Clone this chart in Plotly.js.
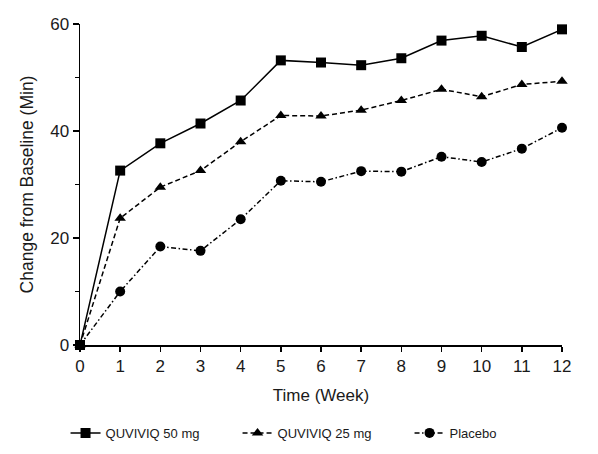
<!DOCTYPE html>
<html><head><meta charset="utf-8">
<script src="https://cdn.plot.ly/plotly-3.0.1.min.js"></script>
<style>body{margin:0;background:#fff}#c{width:598px;height:454px}</style>
</head><body><div id="c"></div>
<script>
const weeks = [0,1,2,3,4,5,6,7,8,9,10,11,12];
const seriesNames = ["QUVIVIQ 50 mg","QUVIVIQ 25 mg","Placebo"];
const dose50 = [0,32.6,37.7,41.4,45.7,53.2,52.8,52.3,53.6,56.9,57.8,55.7,59.0];
const dose25 = [0,23.7,29.5,32.6,38.0,42.9,42.8,43.9,45.7,47.8,46.4,48.7,49.3];
const placebo = [0,10.0,18.4,17.6,23.5,30.7,30.5,32.5,32.4,35.2,34.2,36.7,40.6];
const xTicks = [0,1,2,3,4,5,6,7,8,9,10,11,12];
const yTicks = [0,20,40,60];

const font = "Liberation Sans, Arial, sans-serif";
function tr(y, name, dash, sym, size){
  return {x: weeks, y: y, name: name, mode: 'lines+markers', cliponaxis:false,
    line:{color:'#000', width:1.5, dash:dash},
    marker:{symbol:sym, size:size, color:'#000'}};
}
const data = [
  tr(dose50, seriesNames[0], 'solid', 'square', 10),
  tr(dose25, seriesNames[1], '5px,3px', 'triangle-up', 10),
  tr(placebo, seriesNames[2], '5px,2.5px,1.5px,2.5px', 'circle', 10)
];
const layout = {
  width:598, height:454,
  margin:{l:80, r:36, t:24, b:109, autoexpand:false},
  paper_bgcolor:'#fff', plot_bgcolor:'#fff',
  font:{family:font, color:'#1a1a1a'},
  showlegend:true,
  legend:{orientation:'h', x:-0.03, xanchor:'left', y:-0.274, yanchor:'middle',
    font:{size:13, family:font}, entrywidth:127, traceorder:'normal'},
  xaxis:{range:[0,12], tickvals:xTicks, ticktext:xTicks.map(String),
    showgrid:false, zeroline:false, showline:true, linecolor:'#000', linewidth:1.5,
    ticks:'outside', ticklen:5, tickwidth:1.5, tickcolor:'#000',
    tickfont:{size:17}, title:{text:'Time (Week)', font:{size:17}, standoff:14}},
  yaxis:{range:[0,60], tickvals:yTicks, ticktext:yTicks.map(String),
    showgrid:false, zeroline:false, showline:true, linecolor:'#000', linewidth:1.5,
    ticks:'outside', ticklen:6, tickwidth:1.5, tickcolor:'#000',
    minor:{tickvals:[10,30,50], ticks:'outside', ticklen:4, tickwidth:1.5, tickcolor:'#000', showgrid:false},
    tickfont:{size:17}, title:{text:'Change from Baseline (Min)', font:{size:17.5}, standoff:12}}
};
Plotly.newPlot('c', data, layout, {displayModeBar:false, staticPlot:true});
</script></body></html>
